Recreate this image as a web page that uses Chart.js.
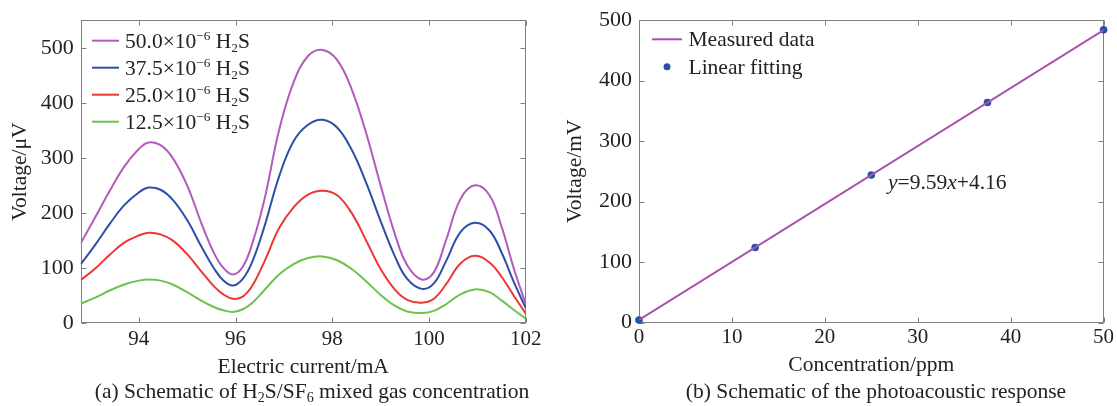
<!DOCTYPE html>
<html>
<head>
<meta charset="utf-8">
<script src="https://cdn.jsdelivr.net/npm/chart.js@4.4.1/dist/chart.umd.min.js"></script>
<style>
  body { margin: 0; background: #fff; width: 1117px; height: 406px; position: relative; overflow: hidden; font-family: 'Liberation Serif', serif; }
  .panel { position: absolute; top: 0; height: 380px; }
  .caption { position: absolute; top: 379px; font-size: 21.5px; color: #222; white-space: nowrap; transform: translateX(-50%); }
  .caption sub { font-size: 14px; vertical-align: -4px; line-height: 0; }
</style>
</head>
<body>
<div class="panel" style="left:0;width:545px"><canvas id="chartA"></canvas></div>
<div class="panel" style="left:545px;width:572px"><canvas id="chartB"></canvas></div>
<div class="caption" style="left:312px">(a) Schematic of H<sub>2</sub>S/SF<sub>6</sub> mixed gas concentration</div>
<div class="caption" style="left:876px">(b) Schematic of the photoacoustic response</div>

<script>
// (a) photoacoustic signal vs. laser drive current
const currentMA = [92.8, 93.1, 93.4, 93.7, 94.0, 94.2, 94.45, 94.7, 95.0, 95.3, 95.55, 95.75, 95.95, 96.15, 96.35, 96.6, 96.9, 97.2, 97.5, 97.8, 98.1, 98.4, 98.7, 99.0, 99.3, 99.55, 99.85, 100.1, 100.35, 100.65, 100.95, 101.25, 101.5, 101.75, 102.0];
const volt50 = [145, 192, 240, 284, 316, 328, 323, 300, 250, 180, 128, 100, 88, 102, 145, 225, 350, 437, 485, 496, 478, 425, 345, 250, 160, 105, 79, 92, 150, 225, 250, 232, 175, 100, 34];
const volt375 = [107, 142, 180, 214, 237, 246, 242, 224, 187, 138, 100, 77, 68, 80, 112, 176, 266, 330, 360, 369, 355, 315, 255, 185, 120, 80, 62, 72, 112, 165, 182, 168, 128, 75, 27];
const volt25 = [78, 99, 124, 146, 159, 164, 161, 150, 125, 93, 67, 52, 44, 48, 68, 112, 172, 210, 233, 240, 232, 200, 150, 98, 60, 42, 37, 44, 70, 108, 122, 110, 84, 50, 17];
const volt125 = [35, 46, 59, 70, 77, 79, 77, 70, 56, 40, 29, 23, 20, 25, 37, 60, 88, 107, 118, 121, 114, 98, 76, 51, 31, 21, 18, 22, 34, 52, 61, 56, 41, 24, 8];
const seriesLabels = ['50.0×10⁻⁶ H₂S', '37.5×10⁻⁶ H₂S', '25.0×10⁻⁶ H₂S', '12.5×10⁻⁶ H₂S'];
const xTicksA = [94, 96, 98, 100, 102];
const yTicksA = [0, 100, 200, 300, 400, 500];

// (b) response vs. concentration
const concPpm = [0, 12.5, 25, 37.5, 50];
const responseMV = [4, 124, 244, 364, 484];
const fitSlope = 9.59;
const fitIntercept = 4.16;
const fitRange = [0, 50];
const xTicksB = [0, 10, 20, 30, 40, 50];
const yTicksB = [0, 100, 200, 300, 400, 500];

const FONT = "'Liberation Serif', 'Times New Roman', serif";
const TEXT = '#222';
const AXIS = '#808080';
const TXT_SIZE = 21.5;

const supMap = { '⁻': '−', '⁶': '6' };
const subMap = { '₂': '2', '₆': '6' };

// draws text with unicode super/subscripts as raised/lowered small glyphs
function drawRich(ctx, text, x, y, size) {
  for (const ch of text) {
    let t = ch, s = size, dy = 0;
    if (supMap[ch]) { t = supMap[ch]; s = size * 0.62; dy = -size * 0.38; }
    else if (subMap[ch]) { t = subMap[ch]; s = size * 0.62; dy = size * 0.22; }
    ctx.font = s + 'px ' + FONT;
    ctx.fillText(t, x, y + dy);
    x += ctx.measureText(t).width;
  }
}

// box round the plot area with inward tick marks on all four sides
const axisBox = {
  id: 'axisBox',
  beforeDatasetsDraw(chart) {
    const { ctx, chartArea: a, scales } = chart;
    const L = Math.round(a.left) + 0.5, R = Math.round(a.right) - 0.5;
    const T = Math.round(a.top) + 0.5, B = Math.round(a.bottom) - 0.5;
    ctx.save();
    ctx.strokeStyle = AXIS;
    ctx.lineWidth = 1;
    ctx.strokeRect(L, T, R - L, B - T);
    ctx.beginPath();
    scales.x.ticks.forEach(t => {
      const px = Math.round(scales.x.getPixelForValue(t.value)) + 0.5;
      ctx.moveTo(px, B); ctx.lineTo(px, B - 5);
      ctx.moveTo(px, T); ctx.lineTo(px, T + 5);
    });
    scales.y.ticks.forEach(t => {
      const py = Math.round(scales.y.getPixelForValue(t.value)) + 0.5;
      ctx.moveTo(L, py); ctx.lineTo(L + 5, py);
      ctx.moveTo(R, py); ctx.lineTo(R - 5, py);
    });
    ctx.stroke();
    ctx.restore();
  }
};

// legend drawn inside the plot area
const boxLegend = {
  id: 'boxLegend',
  afterDraw(chart, args, opts) {
    const ctx = chart.ctx;
    ctx.save();
    ctx.textBaseline = 'alphabetic';
    chart.data.datasets.forEach((ds, i) => {
      const y = opts.y + i * opts.gap;
      if (ds.showLine === false) {
        ctx.fillStyle = ds.backgroundColor;
        ctx.beginPath();
        ctx.arc(opts.x + opts.lineLen / 2, y, 3.5, 0, Math.PI * 2);
        ctx.fill();
      } else {
        ctx.strokeStyle = ds.borderColor;
        ctx.lineWidth = 2;
        ctx.beginPath();
        ctx.moveTo(opts.x, y);
        ctx.lineTo(opts.x + opts.lineLen, y);
        ctx.stroke();
      }
      ctx.fillStyle = TEXT;
      drawRich(ctx, ds.label, opts.x + opts.lineLen + opts.textGap, y + 7, TXT_SIZE);
    });
    ctx.restore();
  }
};

// fitted equation, italic variables
const fitNote = {
  id: 'fitNote',
  afterDraw(chart, args, opts) {
    if (!opts.parts) return;
    const ctx = chart.ctx;
    ctx.save();
    ctx.fillStyle = TEXT;
    ctx.textBaseline = 'alphabetic';
    let x = opts.x;
    opts.parts.forEach(([txt, italic]) => {
      ctx.font = (italic ? 'italic ' : '') + TXT_SIZE + 'px ' + FONT;
      ctx.fillText(txt, x, opts.y);
      x += ctx.measureText(txt).width;
    });
    ctx.restore();
  }
};

function fixedTicks(list) {
  return s => { s.ticks = list.map(v => ({ value: v })); };
}

function axes(xMin, xMax, xTicks, xTitle, yMax, yTicks, yTitle, yWidth, yTitlePad, xLabelPad, xTitlePad) {
  return {
    x: {
      type: 'linear', min: xMin, max: xMax,
      afterBuildTicks: fixedTicks(xTicks),
      afterFit: s => { s.height = 57; },
      grid: { display: false, drawTicks: false }, border: { display: false },
      ticks: { font: { family: FONT, size: 21 }, color: TEXT, padding: xLabelPad, maxRotation: 0, autoSkip: false },
      title: { display: true, text: xTitle, font: { family: FONT, size: TXT_SIZE }, color: TEXT, padding: { top: 0, bottom: xTitlePad } }
    },
    y: {
      type: 'linear', min: 0, max: yMax,
      afterBuildTicks: fixedTicks(yTicks),
      afterFit: s => { s.width = yWidth; },
      grid: { display: false, drawTicks: false }, border: { display: false },
      ticks: { font: { family: FONT, size: 22 }, color: TEXT, padding: 7 },
      title: { display: true, text: yTitle, font: { family: FONT, size: TXT_SIZE }, color: TEXT, padding: { top: yTitlePad, bottom: 0 } }
    }
  };
}

const pairs = ys => currentMA.map((x, i) => ({ x: x, y: ys[i] }));
const curveColors = ['#b05cb8', '#2d4fa6', '#ef3636', '#6fc24c'];
const curveData = [volt50, volt375, volt25, volt125];

new Chart(document.getElementById('chartA'), {
  type: 'line',
  data: {
    datasets: curveData.map((ys, i) => ({
      label: seriesLabels[i],
      data: pairs(ys),
      borderColor: curveColors[i],
      borderWidth: 2,
      pointRadius: 0,
      tension: 0.4,
      fill: false
    }))
  },
  options: {
    responsive: true,
    maintainAspectRatio: false,
    animation: false,
    devicePixelRatio: 1,
    layout: { padding: { left: 0, right: 16, top: 16, bottom: 0 } },
    scales: axes(92.8, 102, xTicksA, 'Electric current/mA', 550, yTicksA, 'Voltage/μV', 80.7, 7, 3.5, 0),
    plugins: {
      legend: { display: false },
      tooltip: { enabled: false },
      boxLegend: { x: 92, y: 40.7, gap: 27, lineLen: 27, textGap: 6 }
    }
  },
  plugins: [axisBox, boxLegend, fitNote]
});

const fitLine = fitRange.map(c => ({ x: c, y: fitSlope * c + fitIntercept }));

new Chart(document.getElementById('chartB'), {
  type: 'scatter',
  data: {
    datasets: [
      {
        label: 'Measured data',
        data: fitLine,
        showLine: true,
        borderColor: '#a94fae',
        borderWidth: 2,
        pointRadius: 0
      },
      {
        label: 'Linear fitting',
        data: concPpm.map((c, i) => ({ x: c, y: responseMV[i] })),
        showLine: false,
        backgroundColor: '#2352a8',
        borderWidth: 0,
        pointRadius: 3.8,
        clip: false
      }
    ]
  },
  options: {
    responsive: true,
    maintainAspectRatio: false,
    animation: false,
    devicePixelRatio: 1,
    layout: { padding: { left: 0, right: 13.4, top: 13.3, bottom: 0.5 } },
    scales: axes(0, 50, xTicksB, 'Concentration/ppm', 500, yTicksB, 'Voltage/mV', 94, 17, 2, 1),
    plugins: {
      legend: { display: false },
      tooltip: { enabled: false },
      boxLegend: { x: 107, y: 39.3, gap: 27.4, lineLen: 30, textGap: 6.5 },
      fitNote: { x: 343, y: 189, parts: [['y', true], ['=' + fitSlope, false], ['x', true], ['+' + fitIntercept, false]] }
    }
  },
  plugins: [axisBox, boxLegend, fitNote]
});
</script>
</body>
</html>
